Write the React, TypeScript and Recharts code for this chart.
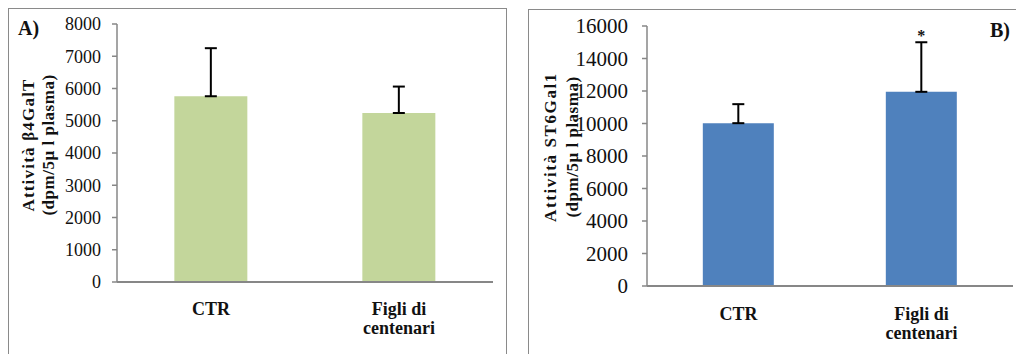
import React from 'react';
import { BarChart, Bar, XAxis, YAxis, ErrorBar, LabelList } from 'recharts';

const categories = ['CTR', 'Figli di\ncentenari'];
const b4GalTValues = [5760, 5240];
const b4GalTErrors = [1490, 820];
const st6Gal1Values = [10020, 11950];
const st6Gal1Errors = [1170, 3050];
const b4GalTTicks = [0, 1000, 2000, 3000, 4000, 5000, 6000, 7000, 8000];
const st6Gal1Ticks = [0, 2000, 4000, 6000, 8000, 10000, 12000, 14000, 16000];
const significance = ['', '*'];

const dataA = categories.map((c, i) => ({ name: c, value: b4GalTValues[i], err: [0, b4GalTErrors[i]] }));
const dataB = categories.map((c, i) => ({ name: c, value: st6Gal1Values[i], err: [0, st6Gal1Errors[i]], sig: significance[i], e: st6Gal1Errors[i] }));

const AXIS = '#878787';
const FONT = '"Liberation Serif", "Times New Roman", Times, serif';

const CatTick = (dy: number) => (props: any) => {
  const { x, y, payload } = props;
  const lines = String(payload.value).split('\n');
  return (
    <g>
      {lines.map((l, i) => (
        <text key={i} x={x} y={y + dy + i * 19} textAnchor="middle" fontFamily={FONT} fontWeight="bold" fontSize={18} fill="#111">
          {l}
        </text>
      ))}
    </g>
  );
};

const YTitle = (cx1: number, cx2: number, cy: number, line1: string, ls1: number) => () => (
  <g>
    <text transform={`translate(${cx1},${cy}) rotate(-90)`} textAnchor="middle" dominantBaseline="central" fontFamily={FONT} fontWeight="bold" fontSize={17} letterSpacing={ls1} fill="#111">
      {line1}
    </text>
    <text transform={`translate(${cx2},${cy}) rotate(-90)`} textAnchor="middle" dominantBaseline="central" fontFamily={FONT} fontWeight="bold" fontSize={17} letterSpacing={0.5} fill="#111">
      (dpm/5µ l plasma)
    </text>
  </g>
);

const StarLabel = (props: any) => {
  const { x, y, width, height, index } = props;
  const d = dataB[index];
  if (!d || !d.sig) return null;
  const top = y - (d.e / d.value) * height;
  return (
    <text x={x + width / 2} y={top - 1} textAnchor="middle" fontFamily={FONT} fontWeight="bold" fontSize={16} fill="#111">
      {d.sig}
    </text>
  );
};

export default function App() {
  return (
    <div style={{ position: 'absolute', left: 0, top: 0, width: 1016, height: 354, background: '#fff', overflow: 'hidden', fontFamily: FONT }}>
      <div style={{ position: 'absolute', left: 8, top: 8, width: 499, height: 360, borderTop: '1px solid #8a8a8a', borderLeft: '1px solid #8a8a8a', borderRight: '1px solid #8a8a8a', boxSizing: 'border-box' }} />
      <div style={{ position: 'absolute', left: 528, top: 9, width: 500, height: 360, borderTop: '1px solid #8a8a8a', borderLeft: '1px solid #8a8a8a', boxSizing: 'border-box' }} />

      <div style={{ position: 'absolute', left: 18, top: 28, fontFamily: FONT, fontWeight: 'bold', fontSize: 20, lineHeight: '0px', color: '#111' }}>A)</div>
      <div style={{ position: 'absolute', left: 990, top: 30, fontFamily: FONT, fontWeight: 'bold', fontSize: 20, lineHeight: '0px', color: '#111', whiteSpace: 'nowrap' }}>B)</div>

      <div style={{ position: 'absolute', left: 0, top: 0 }}>
        <BarChart width={508} height={354} data={dataA} margin={{ top: 24, right: 15, bottom: 32, left: 57 }} barCategoryGap="30.5%">
          <XAxis xAxisId="b" type="number" domain={[0, 2]} ticks={[0, 1, 2]} allowDataOverflow axisLine={false} tickLine={{ stroke: AXIS, strokeWidth: 1.5 }} tickSize={6} tickFormatter={() => ''} height={0} />
          <XAxis xAxisId="a" dataKey="name" axisLine={{ stroke: AXIS, strokeWidth: 2 }} tickLine={false} tick={CatTick(25)} interval={0} height={40} />
          <YAxis domain={[0, 8000]} ticks={b4GalTTicks} width={60} axisLine={{ stroke: AXIS, strokeWidth: 1.5 }} tickLine={{ stroke: AXIS, strokeWidth: 1.5 }} tickSize={5} tickMargin={11} tick={{ fontSize: 18, fill: '#111', fontFamily: FONT } as any} label={{ content: YTitle(28, 48, 145, 'Attività β4GalT', 1.2) as any }} />
          <Bar xAxisId="a" dataKey="value" fill="#C3D69B" isAnimationActive={false}>
            <ErrorBar dataKey="err" width={6} stroke="#000" strokeWidth={2} direction="y" />
          </Bar>
        </BarChart>
      </div>

      <div style={{ position: 'absolute', left: 520, top: 0 }}>
        <BarChart width={496} height={354} data={dataB} margin={{ top: 26, right: 3, bottom: 28, left: 62 }} barCategoryGap="30.5%">
          <XAxis xAxisId="b" type="number" domain={[0, 2]} ticks={[0, 1, 2]} allowDataOverflow axisLine={false} tickLine={{ stroke: AXIS, strokeWidth: 1.5 }} tickSize={6} tickFormatter={() => ''} height={0} />
          <XAxis xAxisId="a" dataKey="name" axisLine={{ stroke: AXIS, strokeWidth: 2 }} tickLine={false} tick={CatTick(26)} interval={0} height={40} />
          <YAxis domain={[0, 16000]} ticks={st6Gal1Ticks} width={65} axisLine={{ stroke: AXIS, strokeWidth: 1.5 }} tickLine={{ stroke: AXIS, strokeWidth: 1.5 }} tickSize={5} tickMargin={14} tick={{ fontSize: 21, fill: '#111', fontFamily: FONT } as any} label={{ content: YTitle(30, 52, 147, 'Attività ST6Gal1', 1.6) as any }} />
          <Bar xAxisId="a" dataKey="value" fill="#4F81BD" isAnimationActive={false}>
            <ErrorBar dataKey="err" width={6} stroke="#000" strokeWidth={2} direction="y" />
            <LabelList dataKey="sig" content={StarLabel} />
          </Bar>
        </BarChart>
      </div>
    </div>
  );
}
